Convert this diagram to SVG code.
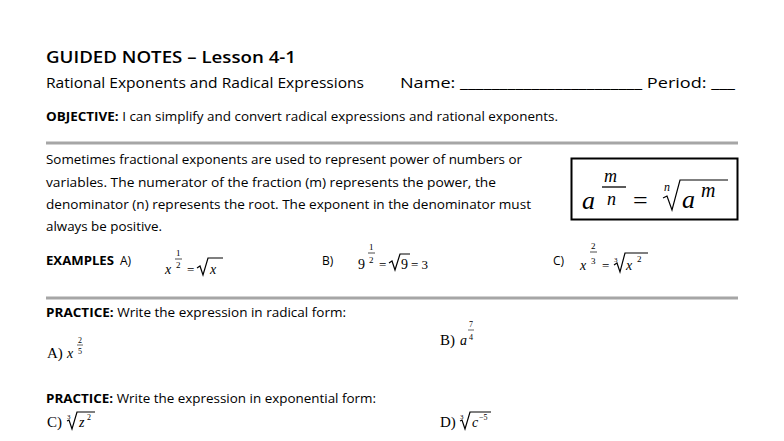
<svg xmlns="http://www.w3.org/2000/svg" width="784" height="441" viewBox="0 0 784 441">
<style>
.s{font-family:"Open Sans","Liberation Sans",sans-serif;fill:#000}
.m{font-family:"Liberation Serif",serif;font-style:italic;fill:#000}
.r{font-family:"Liberation Serif",serif;fill:#000}
.rule{stroke:#a6a6a6;stroke-width:3}
.rad{fill:none;stroke:#000;stroke-width:1.2}
</style>
<rect width="784" height="441" fill="#fff"/>
<text class="s" x="46" y="63" font-size="16" font-weight="600" textLength="250" lengthAdjust="spacingAndGlyphs">GUIDED NOTES – Lesson 4-1</text>
<text class="s" x="46" y="88" font-size="14" textLength="318" lengthAdjust="spacingAndGlyphs">Rational Exponents and Radical Expressions</text>
<text class="s" x="400" y="88" font-size="14" textLength="335" lengthAdjust="spacingAndGlyphs">Name: _______________________  Period: ___</text>
<text class="s" x="46" y="121" font-size="12" textLength="512" lengthAdjust="spacingAndGlyphs"><tspan font-weight="700">OBJECTIVE:</tspan>  I can simplify and convert radical expressions and rational exponents.</text>
<line class="rule" x1="46" y1="143" x2="738" y2="143"/>
<g class="s" font-size="13">
<text x="46" y="164" textLength="476" lengthAdjust="spacingAndGlyphs">Sometimes fractional exponents are used to represent power of numbers or</text>
<text x="46" y="187" textLength="450" lengthAdjust="spacingAndGlyphs">variables.  The numerator of the fraction (m) represents the power, the</text>
<text x="46" y="209" textLength="485" lengthAdjust="spacingAndGlyphs">denominator (n) represents the root.  The exponent in the denominator must</text>
<text x="46" y="231" textLength="116" lengthAdjust="spacingAndGlyphs">always be positive.</text>
</g>
<rect x="571.5" y="158.5" width="166" height="61" fill="none" stroke="#000" stroke-width="2"/>
<text class="m" x="582" y="209" font-size="26">a</text>
<text class="m" x="604" y="182" font-size="18">m</text>
<line x1="602" y1="187" x2="626" y2="187" stroke="#000" stroke-width="1.3"/>
<text class="m" x="607" y="205" font-size="18">n</text>
<text class="r" x="633" y="209" font-size="26">=</text>
<text class="m" x="664" y="191" font-size="12">n</text>
<path class="rad" d="M663 198 L667 196 L672 210 L680 180 L728 180" stroke-width="1.5"/>
<text class="m" x="682" y="208" font-size="26">a</text>
<text class="m" x="701" y="197" font-size="20">m</text>
<text class="s" x="46" y="265" font-size="12" font-weight="700" textLength="68" lengthAdjust="spacingAndGlyphs">EXAMPLES</text>
<text class="s" x="120" y="265" font-size="12">A)</text>
<text class="m" x="165" y="274" font-size="14">x</text>
<text class="r" x="176" y="256" font-size="9">1</text>
<line x1="175" y1="259" x2="182" y2="259" stroke="#000" stroke-width="0.7"/>
<text class="r" x="176" y="268" font-size="9">2</text>
<text class="r" x="187" y="274" font-size="13">=</text>
<path class="rad" d="M197 268 L200 266 L203 275 L208 258 L223 258"/>
<text class="m" x="210" y="274" font-size="14">x</text>
<text class="s" x="322" y="265" font-size="12">B)</text>
<text class="r" x="358" y="269" font-size="14">9</text>
<text class="r" x="369" y="250" font-size="9">1</text>
<line x1="368" y1="253" x2="375" y2="253" stroke="#000" stroke-width="0.7"/>
<text class="r" x="369" y="263" font-size="9">2</text>
<text class="r" x="379" y="269" font-size="13">=</text>
<path class="rad" d="M389 263 L392 261 L395 270 L400 254 L410 254"/>
<text class="r" x="401" y="269" font-size="14">9</text>
<text class="r" x="411" y="269" font-size="13">= 3</text>
<text class="s" x="553" y="265" font-size="12">C)</text>
<text class="m" x="580" y="270" font-size="14">x</text>
<text class="r" x="591" y="249" font-size="9">2</text>
<line x1="590" y1="252" x2="597" y2="252" stroke="#000" stroke-width="0.7"/>
<text class="r" x="591" y="264" font-size="9">3</text>
<text class="r" x="602" y="270" font-size="13">=</text>
<text class="r" x="614" y="262" font-size="7">3</text>
<path class="rad" d="M614 265 L617 263 L620 272 L625 253 L648 253"/>
<text class="m" x="626" y="270" font-size="14">x</text>
<text class="r" x="637" y="262" font-size="9">2</text>
<line class="rule" x1="46" y1="298" x2="738" y2="298"/>
<text class="s" x="46" y="317" font-size="13" textLength="300" lengthAdjust="spacingAndGlyphs"><tspan font-weight="700">PRACTICE:</tspan> Write the expression in radical form:</text>
<text class="r" x="47" y="358" font-size="15">A)</text>
<text class="m" x="67" y="358" font-size="14">x</text>
<text class="r" x="78" y="343" font-size="8">2</text>
<line x1="77" y1="345" x2="83" y2="345" stroke="#000" stroke-width="0.6"/>
<text class="r" x="78" y="354" font-size="8">5</text>
<text class="r" x="440" y="345" font-size="15">B)</text>
<text class="m" x="460" y="345" font-size="14">a</text>
<text class="r" x="469" y="327" font-size="8">7</text>
<line x1="468" y1="330" x2="474" y2="330" stroke="#000" stroke-width="0.6"/>
<text class="r" x="469" y="340" font-size="8">4</text>
<text class="s" x="46" y="403" font-size="13" textLength="330" lengthAdjust="spacingAndGlyphs"><tspan font-weight="700">PRACTICE:</tspan> Write the expression in exponential form:</text>
<text class="r" x="47" y="427" font-size="15">C)</text>
<text class="r" x="67" y="419" font-size="7">3</text>
<path class="rad" d="M67 421 L69 420 L72 429 L77 412 L95 412"/>
<text class="m" x="79" y="427" font-size="14">z</text>
<text class="r" x="87" y="420" font-size="8">2</text>
<text class="r" x="440" y="427" font-size="15">D)</text>
<text class="r" x="460" y="419" font-size="7">3</text>
<path class="rad" d="M460 421 L462 420 L465 429 L470 412 L491 412"/>
<text class="m" x="472" y="427" font-size="14">c</text>
<text class="r" x="479" y="420" font-size="8">−5</text>
</svg>
